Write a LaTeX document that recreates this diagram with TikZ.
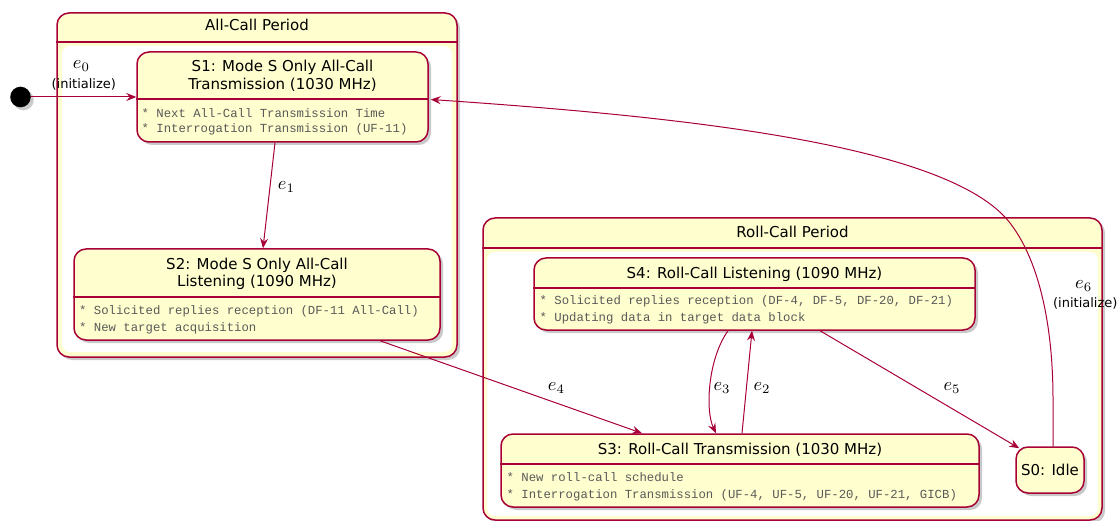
\documentclass[tikz,border=0pt]{standalone}
\usepackage{fontspec}
\setmainfont{DejaVu Sans}
\newfontfamily\monofam{Liberation Mono}
\usetikzlibrary{arrows.meta,calc,shadows}
\definecolor{pborder}{HTML}{A80036}
\definecolor{pfill}{HTML}{FEFECE}
\newcommand{\elabel}[1]{\scalebox{1.85}{$e_{#1}$}}
\tikzset{
  shd/.style={drop shadow={shadow xshift=3pt, shadow yshift=-3pt, opacity=0.35, fill=black!60}},
  statebox/.style={draw=pborder, fill=pfill, line width=1.5pt, rounded corners=12pt, inner sep=0pt, shd},
  compbox/.style={draw=pborder, fill=pfill, line width=1.5pt, rounded corners=12pt, inner sep=0pt, shd},
  divline/.style={draw=pborder, line width=1.5pt},
  ttl/.style={font=\fontsize{15}{18}\selectfont, anchor=base, inner sep=0pt, text=black},
  dsc/.style={font=\fontsize{12.3}{14}\monofam, anchor=base west, inner sep=0pt, text=black!65},
  elab/.style={font=\fontsize{10}{12}\selectfont, anchor=base west, inner sep=0pt},
  inilab/.style={font=\fontsize{13}{15}\selectfont, anchor=base, inner sep=0pt},
  tr/.style={draw=pborder, line width=1pt, -{Stealth[length=10pt,width=8pt,inset=3.5pt]}},
}
\begin{document}
\begin{tikzpicture}[x=1pt,y=-1pt]
\useasboundingbox (0,0) rectangle (1119,521);

% ---- composite: All-Call Period
\node[compbox, minimum width=400pt, minimum height=344pt] (allcall) at (257,185) {};
\fill[white, rounded corners=8pt] (62,46) rectangle (452,352);
\draw[divline] (allcall.west |- 0,42) -- (allcall.east |- 0,42);
\node[ttl] (allcallT) at (257,31) {All-Call Period};

% ---- composite: Roll-Call Period
\node[compbox, minimum width=619pt, minimum height=302pt] (rollcall) at (792.5,369) {};
\fill[white, rounded corners=8pt] (487,252) rectangle (1098,516);
\draw[divline] (rollcall.west |- 0,248) -- (rollcall.east |- 0,248);
\node[ttl] (rollcallT) at (792.5,237.5) {Roll-Call Period};

% ---- initial pseudo state
\node[circle, fill=black, minimum size=20.6pt, inner sep=0pt, shd] (init) at (20.5,97) {};

% ---- S1
\node[statebox, minimum width=291pt, minimum height=90pt] (s1) at (282.5,97) {};
\draw[divline] (s1.west |- 0,99) -- (s1.east |- 0,99);
\node[ttl] (s1a) at (282.5,72) {S1: Mode S Only All-Call};
\node[ttl] (s1b) at (282.5,89.5) {Transmission (1030 MHz)};
\node[dsc] (s1c) at (141.5,117.5) {* Next All-Call Transmission Time};
\node[dsc] (s1d) at (141.5,133) {* Interrogation Transmission (UF-11)};

% ---- S2
\node[statebox, minimum width=366pt, minimum height=91pt] (s2) at (257,294.5) {};
\draw[divline] (s2.west |- 0,297) -- (s2.east |- 0,297);
\node[ttl] (s2a) at (257,269.5) {S2: Mode S Only All-Call};
\node[ttl] (s2b) at (257,287) {Listening (1090 MHz)};
\node[dsc] (s2c) at (79,315) {* Solicited replies reception (DF-11 All-Call)};
\node[dsc] (s2d) at (79,331) {* New target acquisition};

% ---- S4
\node[statebox, minimum width=441pt, minimum height=72pt] (s4) at (754.5,294) {};
\draw[divline] (s4.west |- 0,288) -- (s4.east |- 0,288);
\node[ttl] (s4a) at (754.5,278.5) {S4: Roll-Call Listening (1090 MHz)};
\node[dsc] (s4c) at (539.5,305) {* Solicited replies reception (DF-4, DF-5, DF-20, DF-21)};
\node[dsc] (s4d) at (539.5,322) {* Updating data in target data block};

% ---- S3
\node[statebox, minimum width=478pt, minimum height=73pt] (s3) at (740,470.5) {};
\draw[divline] (s3.west |- 0,464) -- (s3.east |- 0,464);
\node[ttl] (s3a) at (740,454.5) {S3: Roll-Call Transmission (1030 MHz)};
\node[dsc] (s3c) at (506.5,481) {* New roll-call schedule};
\node[dsc] (s3d) at (506.5,498) {* Interrogation Transmission (UF-4, UF-5, UF-20, UF-21, GICB)};

% ---- S0
\node[statebox, minimum width=68pt, minimum height=46pt] (s0) at (1050,470) {};
\node[ttl] (s0a) at (1050,475) {S0: Idle};

% ---- transitions
\draw[tr] (init.east) -- (s1.west);
\node[elab] (l0) at (72.7,68.3) {\elabel{0}};
\node[inilab] (l0i) at (83.8,88.5) {(initialize)};

\draw[tr] ($(s1.south)+(-7.5,0)$) -- ($(s2.north)+(6,0)$);
\node[elab] (l1) at (277.7,190) {\elabel{1}};

\draw[tr] ($(s2.south)+(123,0)$) -- ($(s3.north)+(-98,0)$);
\node[elab] (l4) at (547.7,390.5) {\elabel{4}};

\draw[tr] ($(s4.south)+(-26.5,0)$) .. controls +(-20,28) and +(-11,-23) .. ($(s3.north)+(-24,0)$);
\node[elab] (l3) at (713.3,390.5) {\elabel{3}};

\draw[tr] ($(s3.north)+(2,0)$) -- ($(s4.south)+(-2.5,0)$);
\node[elab] (l2) at (753.3,390.5) {\elabel{2}};

\draw[tr] ($(s4.south)+(65.5,0)$) -- ($(s0.north west)+(4,2)$);
\node[elab] (l5) at (943.3,390.5) {\elabel{5}};

\coordinate (e6mid) at (1010,223);
\draw[tr] ($(s0.north)+(3,0)$) -- ++(0,-47) .. controls +(0,-70) and +(30.5,39.5) .. (e6mid)
  .. controls +(-61,-79) and +(250,17) .. ($(s1.east)+(2,2.5)$);
\node[elab] (l6) at (1075,288.3) {\elabel{6}};
\node[inilab] (l6i) at (1085.3,308) {(initialize)};
\end{tikzpicture}
\end{document}
